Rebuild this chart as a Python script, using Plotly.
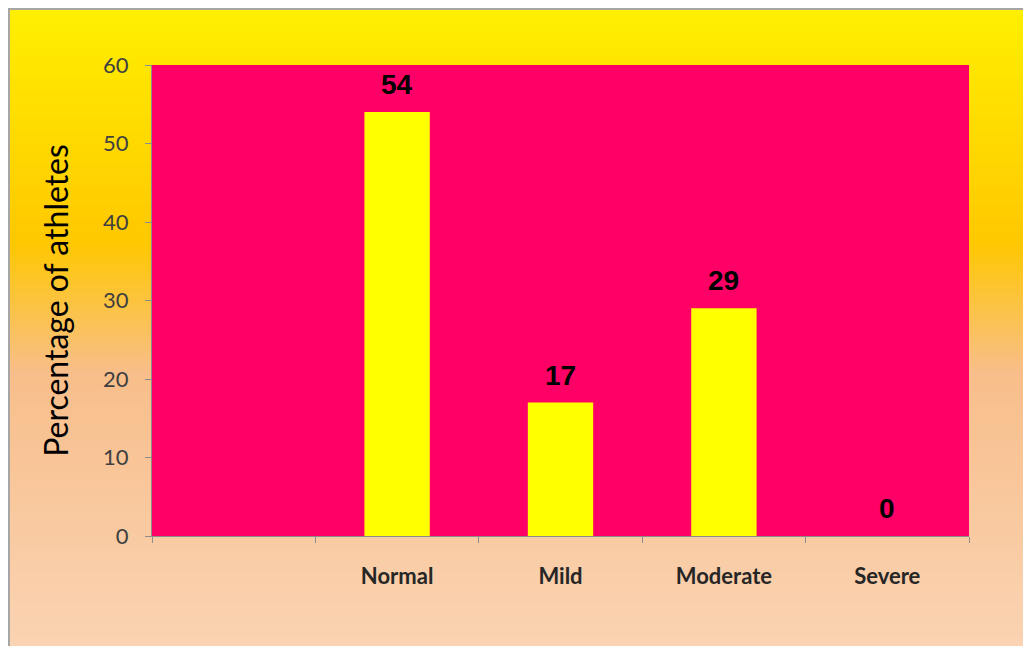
import plotly.graph_objects as go

# Severity of condition among athletes (%)
categories = ["Normal", "Mild", "Moderate", "Severe"]
percentages = [54, 17, 29, 0]
axis_categories = [" "] + categories  # leading empty slot on the category axis
y_ticks = [0, 10, 20, 30, 40, 50, 60]

W, H = 1023, 646
ML, MR, MT, MB = 152, 54, 65, 110
PW, PH = W - ML - MR, H - MT - MB


def px_to_paper_x(px):
    return (px - ML) / PW


def px_to_paper_y(py):
    return (H - MB - py) / PH


def hex_rgb(h):
    h = h.lstrip("#")
    return tuple(int(h[i:i + 2], 16) for i in (0, 2, 4))


def lerp_color(stops, t):
    for (t0, c0), (t1, c1) in zip(stops, stops[1:]):
        if t0 <= t <= t1:
            f = (t - t0) / (t1 - t0) if t1 > t0 else 0
            a, b = hex_rgb(c0), hex_rgb(c1)
            return "rgb(%d,%d,%d)" % tuple(round(a[i] + (b[i] - a[i]) * f) for i in range(3))
    return stops[-1][1]


# vertical gradient of the chart frame: yellow -> gold -> peach
grad_stops = [(0.0, "#FFEF00"), (0.36, "#FFC800"), (0.56, "#F8BE8A"), (1.0, "#FAD4B4")]
frame_top, frame_bottom = 10, H + 10
frame_left, frame_right = 10, W + 10

shapes = []
n_strips = 160
step = (frame_bottom - frame_top) / n_strips
for i in range(n_strips):
    y0 = frame_top + step * i
    y1 = y0 + step + 2.0
    t = (i + 0.5) / n_strips
    shapes.append(dict(
        type="rect", xref="paper", yref="paper", layer="below",
        x0=px_to_paper_x(frame_left), x1=px_to_paper_x(frame_right),
        y0=px_to_paper_y(y1), y1=px_to_paper_y(y0),
        fillcolor=lerp_color(grad_stops, t), line=dict(width=0),
    ))

# grey frame outline
shapes.append(dict(
    type="rect", xref="paper", yref="paper", layer="below",
    x0=px_to_paper_x(9), x1=px_to_paper_x(W + 20),
    y0=px_to_paper_y(H + 20), y1=px_to_paper_y(9),
    fillcolor="rgba(0,0,0,0)", line=dict(color="#A6A6A6", width=2),
))

# plot area fill
shapes.append(dict(
    type="rect", xref="paper", yref="paper", layer="below",
    x0=0, x1=1, y0=0, y1=1,
    fillcolor="#FF0066", line=dict(width=0),
))

fig = go.Figure()
fig.add_trace(go.Bar(
    x=categories, y=percentages,
    marker=dict(color="#FFFF00", line=dict(width=0)),
    width=0.4,
    hoverinfo="skip",
))

annotations = []
for c, v in zip(categories, percentages):
    annotations.append(dict(
        x=c, y=v, xref="x", yref="y", text=str(v), showarrow=False,
        yanchor="bottom", yshift=10,
        font=dict(family="Liberation Sans", size=28, color="#000000", weight="bold"),
    ))

fig.update_layout(
    width=W, height=H,
    margin=dict(l=ML, r=MR, t=MT, b=MB),
    paper_bgcolor="#FFFFFF",
    plot_bgcolor="#FF0066",
    showlegend=False,
    shapes=shapes,
    annotations=annotations,
    xaxis=dict(
        type="category",
        categoryorder="array", categoryarray=axis_categories,
        range=[-0.5, 4.5],
        tickson="boundaries",
        ticks="outside", ticklen=6, tickcolor="#8C8C8C", tickwidth=1,
        showline=True, linecolor="#8C8C8C", linewidth=1,
        showgrid=False, zeroline=False,
        tickfont=dict(family="Lato", size=22, color="#262626", weight="bold"),
        ticklabelstandoff=21,
    ),
    yaxis=dict(
        range=[0, 60],
        tickvals=y_ticks,
        ticks="outside", ticklen=6, tickcolor="#8C8C8C", tickwidth=1,
        showline=True, linecolor="#8C8C8C", linewidth=1,
        showgrid=False, zeroline=False,
        tickfont=dict(family="Lato", size=22, color="#404040"),
        ticklabelstandoff=12,
        title=dict(
            text="Percentage of athletes",
            font=dict(family="Lato", size=32, color="#000000"),
            standoff=24,
        ),
    ),
    bargap=0.6,
)

fig.write_html("out.html")
